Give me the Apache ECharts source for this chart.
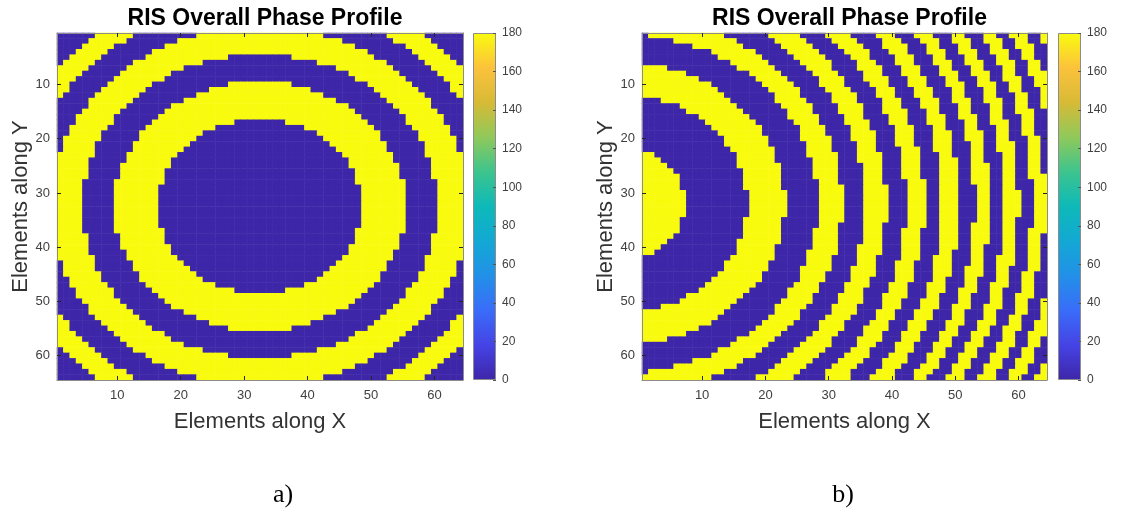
<!DOCTYPE html>
<html><head><meta charset="utf-8">
<script src="https://cdn.jsdelivr.net/npm/echarts@6/dist/echarts.min.js"></script>
<style>html,body{margin:0;padding:0;background:#fff}#c{width:1122px;height:517px}</style>
</head><body><div id="c"></div>
<script>
// ---------------- data ----------------
const titleText = 'RIS Overall Phase Profile';
const xAxisName = 'Elements along X';
const yAxisName = 'Elements along Y';
const captions = ['a)', 'b)'];
const phaseLow = 0, phaseHigh = 180;            // binary phase states (deg)
const axisTickLabels = ['10','20','30','40','50','60'];
const colorbarTicks = [0,20,40,60,80,100,120,140,160,180];

// Each row (Y = 1..64, top to bottom) lists the last column of each run.
// Profile a): runs start with 0° (blue) and alternate 0/180.
const profileA = [
[6,12,22,32,32,32,32,32,32,42,52,58],
[5,11,19,32,32,32,32,32,32,45,53,59],
[4,9,17,32,32,32,32,32,32,47,55,60],
[3,8,15,32,32,32,32,32,32,49,56,61],
[2,7,14,27,32,32,32,32,37,50,57,62],
[1,6,12,23,32,32,32,32,41,52,58,63],
[0,5,11,20,32,32,32,32,44,53,59,64],
[0,4,10,18,32,32,32,32,46,54,60,64],
[0,3,9,17,32,32,32,32,47,55,61,64],
[0,2,8,15,27,32,32,37,49,56,62,64],
[0,2,7,14,24,32,32,40,50,57,62,64],
[0,1,6,13,22,32,32,42,51,58,63,64],
[0,0,5,12,20,32,32,44,52,59,64,64],
[0,0,5,11,18,32,32,46,53,59,64,64],
[0,0,4,10,17,32,32,47,54,60,64,64],
[0,0,3,9,16,32,32,48,55,61,64,64],
[0,0,3,9,15,28,36,49,55,61,64,64],
[0,0,2,8,14,25,39,50,56,62,64,64],
[0,0,2,7,13,23,41,51,57,62,64,64],
[0,0,1,7,13,22,42,51,57,63,64,64],
[0,0,1,6,12,21,43,52,58,63,64,64],
[0,0,1,6,12,20,44,52,58,63,64,64],
[0,0,0,6,11,19,45,53,58,64,64,64],
[0,0,0,5,11,18,46,53,59,64,64,64],
[0,0,0,5,10,18,46,54,59,64,64,64],
[0,0,0,5,10,17,47,54,59,64,64,64],
[0,0,0,5,10,17,47,54,59,64,64,64],
[0,0,0,4,9,17,47,55,60,64,64,64],
[0,0,0,4,9,16,48,55,60,64,64,64],
[0,0,0,4,9,16,48,55,60,64,64,64],
[0,0,0,4,9,16,48,55,60,64,64,64],
[0,0,0,4,9,16,48,55,60,64,64,64],
[0,0,0,4,9,16,48,55,60,64,64,64],
[0,0,0,4,9,16,48,55,60,64,64,64],
[0,0,0,4,9,16,48,55,60,64,64,64],
[0,0,0,4,9,16,48,55,60,64,64,64],
[0,0,0,4,9,17,47,55,60,64,64,64],
[0,0,0,5,10,17,47,54,59,64,64,64],
[0,0,0,5,10,17,47,54,59,64,64,64],
[0,0,0,5,10,18,46,54,59,64,64,64],
[0,0,0,5,11,18,46,53,59,64,64,64],
[0,0,0,6,11,19,45,53,58,64,64,64],
[0,0,1,6,12,20,44,52,58,63,64,64],
[0,0,1,6,12,21,43,52,58,63,64,64],
[0,0,1,7,13,22,42,51,57,63,64,64],
[0,0,2,7,13,23,41,51,57,62,64,64],
[0,0,2,8,14,25,39,50,56,62,64,64],
[0,0,3,9,15,28,36,49,55,61,64,64],
[0,0,3,9,16,32,32,48,55,61,64,64],
[0,0,4,10,17,32,32,47,54,60,64,64],
[0,0,5,11,18,32,32,46,53,59,64,64],
[0,0,5,12,20,32,32,44,52,59,64,64],
[0,1,6,13,22,32,32,42,51,58,63,64],
[0,2,7,14,24,32,32,40,50,57,62,64],
[0,2,8,15,27,32,32,37,49,56,62,64],
[0,3,9,17,32,32,32,32,47,55,61,64],
[0,4,10,18,32,32,32,32,46,54,60,64],
[0,5,11,20,32,32,32,32,44,53,59,64],
[1,6,12,23,32,32,32,32,41,52,58,63],
[2,7,14,27,32,32,32,32,37,50,57,62],
[3,8,15,32,32,32,32,32,32,49,56,61],
[4,9,17,32,32,32,32,32,32,47,55,60],
[5,11,19,32,32,32,32,32,32,45,53,59],
[6,12,22,32,32,32,32,32,32,42,52,58]
];

// Profile b): runs start with 180° (yellow) and alternate 180/0.
const profileB = [
[0,0,0,1,13,20,25,29,33,37,40,43,46,49,51,54,56,58,61,63],
[0,0,0,5,15,21,26,30,34,38,41,44,47,49,52,54,57,59,61,63],
[0,0,0,8,16,22,27,31,35,38,42,45,47,50,52,55,57,59,62,64],
[0,0,0,11,18,23,28,32,36,39,42,45,48,50,53,55,58,60,62,64],
[0,0,0,12,19,24,29,33,36,40,43,46,48,51,53,56,58,60,62,64],
[0,0,0,14,20,25,30,34,37,40,43,46,49,51,54,56,59,61,63,64],
[0,0,4,15,21,26,30,34,38,41,44,47,49,52,54,57,59,61,63,64],
[0,0,7,17,22,27,31,35,38,41,44,47,50,52,55,57,59,61,64,64],
[0,0,9,18,23,28,32,35,39,42,45,48,50,53,55,57,60,62,64,64],
[0,0,11,19,24,28,32,36,39,42,45,48,51,53,56,58,60,62,64,64],
[0,0,12,20,25,29,33,37,40,43,46,49,51,54,56,58,60,63,64,64],
[0,0,13,21,25,30,34,37,40,43,46,49,51,54,56,59,61,63,64,64],
[0,3,14,21,26,30,34,38,41,44,47,49,52,54,57,59,61,63,64,64],
[0,6,15,22,27,31,35,38,41,44,47,50,52,55,57,59,61,63,64,64],
[0,7,16,23,27,31,35,38,42,45,47,50,52,55,57,59,62,64,64,64],
[0,9,17,23,28,32,35,39,42,45,48,50,53,55,57,60,62,64,64,64],
[0,10,18,24,28,32,36,39,42,45,48,51,53,55,58,60,62,64,64,64],
[0,11,19,25,29,33,36,40,43,46,48,51,53,56,58,60,62,64,64,64],
[0,12,19,25,29,33,37,40,43,46,49,51,54,56,58,60,62,64,64,64],
[0,13,20,25,30,33,37,40,43,46,49,51,54,56,58,61,63,64,64,64],
[0,13,20,26,30,34,37,40,43,46,49,52,54,56,59,61,63,64,64,64],
[0,14,21,26,30,34,37,41,44,46,49,52,54,56,59,61,63,64,64,64],
[2,15,21,26,31,34,38,41,44,47,49,52,54,57,59,61,63,64,64,64],
[3,15,21,27,31,34,38,41,44,47,50,52,54,57,59,61,63,64,64,64],
[4,15,22,27,31,35,38,41,44,47,50,52,55,57,59,61,63,64,64,64],
[5,16,22,27,31,35,38,41,44,47,50,52,55,57,59,61,63,64,64,64],
[6,16,22,27,31,35,38,41,44,47,50,52,55,57,59,61,64,64,64,64],
[6,16,22,28,31,35,38,42,45,47,50,52,55,57,59,62,64,64,64,64],
[6,16,22,28,32,35,39,42,45,47,50,53,55,57,59,62,64,64,64,64],
[7,17,23,28,32,35,39,42,45,47,50,53,55,57,60,62,64,64,64,64],
[7,17,23,28,32,35,39,42,45,47,50,53,55,57,60,62,64,64,64,64],
[7,17,23,28,32,35,39,42,45,47,50,53,55,57,60,62,64,64,64,64],
[7,17,23,28,32,35,39,42,45,47,50,53,55,57,60,62,64,64,64,64],
[7,17,23,28,32,35,39,42,45,47,50,53,55,57,60,62,64,64,64,64],
[6,16,22,28,32,35,39,42,45,47,50,53,55,57,59,62,64,64,64,64],
[6,16,22,28,31,35,38,42,45,47,50,52,55,57,59,62,64,64,64,64],
[6,16,22,27,31,35,38,41,44,47,50,52,55,57,59,61,64,64,64,64],
[5,16,22,27,31,35,38,41,44,47,50,52,55,57,59,61,63,64,64,64],
[4,15,22,27,31,35,38,41,44,47,50,52,55,57,59,61,63,64,64,64],
[3,15,21,27,31,34,38,41,44,47,50,52,54,57,59,61,63,64,64,64],
[2,15,21,26,31,34,38,41,44,47,49,52,54,57,59,61,63,64,64,64],
[0,14,21,26,30,34,37,41,44,46,49,52,54,56,59,61,63,64,64,64],
[0,13,20,26,30,34,37,40,43,46,49,52,54,56,59,61,63,64,64,64],
[0,13,20,25,30,33,37,40,43,46,49,51,54,56,58,61,63,64,64,64],
[0,12,19,25,29,33,37,40,43,46,49,51,54,56,58,60,62,64,64,64],
[0,11,19,25,29,33,36,40,43,46,48,51,53,56,58,60,62,64,64,64],
[0,10,18,24,28,32,36,39,42,45,48,51,53,55,58,60,62,64,64,64],
[0,9,17,23,28,32,35,39,42,45,48,50,53,55,57,60,62,64,64,64],
[0,7,16,23,27,31,35,38,42,45,47,50,52,55,57,59,62,64,64,64],
[0,6,15,22,27,31,35,38,41,44,47,50,52,55,57,59,61,63,64,64],
[0,3,14,21,26,30,34,38,41,44,47,49,52,54,57,59,61,63,64,64],
[0,0,13,21,25,30,34,37,40,43,46,49,51,54,56,59,61,63,64,64],
[0,0,12,20,25,29,33,37,40,43,46,49,51,54,56,58,60,63,64,64],
[0,0,11,19,24,28,32,36,39,42,45,48,51,53,56,58,60,62,64,64],
[0,0,9,18,23,28,32,35,39,42,45,48,50,53,55,57,60,62,64,64],
[0,0,7,17,22,27,31,35,38,41,44,47,50,52,55,57,59,61,64,64],
[0,0,4,15,21,26,30,34,38,41,44,47,49,52,54,57,59,61,63,64],
[0,0,0,14,20,25,30,34,37,40,43,46,49,51,54,56,59,61,63,64],
[0,0,0,12,19,24,29,33,36,40,43,46,48,51,53,56,58,60,62,64],
[0,0,0,11,18,23,28,32,36,39,42,45,48,50,53,55,58,60,62,64],
[0,0,0,8,16,22,27,31,35,38,42,45,47,50,52,55,57,59,62,64],
[0,0,0,5,15,21,26,30,34,38,41,44,47,49,52,54,57,59,61,63],
[0,0,0,1,13,20,25,29,33,37,40,43,46,49,51,54,56,58,61,63],
[0,0,0,0,11,18,24,29,33,36,40,43,45,48,51,53,56,58,60,62]
];

// ---------------- helpers ----------------
const N = profileA.length;
const cats = Array.from({length: N}, (_, i) => String(i + 1));
function expand(rows, first, other) {
  const out = [];
  rows.forEach((edges, y) => {
    let prev = 0;
    const put = (to, v) => { for (let x = prev; x < to; x++) out.push([x, y, v]); prev = Math.max(prev, to); };
    edges.forEach((e, k) => put(e, k % 2 === 0 ? first : other));
    put(N, edges.length % 2 === 0 ? first : other);
  });
  return out;
}
const dataA = expand(profileA, phaseLow, phaseHigh);
const dataB = expand(profileB, phaseHigh, phaseLow);

const parula = ['#3E26A8','#4543E5','#3A6CF9','#2290E8','#13A8D4','#0DB9B8','#3DC48E','#90C95A','#D7BA36','#FCC23C','#F9FB0E'];
const FONT = 'Liberation Sans, Arial, sans-serif';
const showTick = (i, v) => axisTickLabels.includes(v);

const panels = [
  {left: 57, width: 406, cbLeft: 473, data: dataA, caption: captions[0], capX: 278},
  {left: 642, width: 405, cbLeft: 1058, data: dataB, caption: captions[1], capX: 838}
];
const TOP = 33, H = 347;

const grid = [], xAxis = [], yAxis = [], series = [], visualMap = [], title = [];
panels.forEach((p, k) => {
  const g = grid.length;
  grid.push({left: p.left, top: TOP, width: p.width, height: H, containLabel: false});
  grid.push({left: p.cbLeft, top: TOP, width: 23, height: H, containLabel: false});
  const lineStyle = {color: '#8c8c8c', width: 1};
  const tick = {show: true, inside: true, length: 4, interval: showTick, alignWithLabel: true, lineStyle: {color: '#262626', width: 1}};
  const xi = xAxis.length, yi = yAxis.length;
  xAxis.push({type: 'category', gridIndex: g, data: cats, position: 'bottom', z: 10,
    axisLine: {show: true, lineStyle}, axisTick: tick,
    axisLabel: {interval: showTick, color: '#404040', fontSize: 13, fontFamily: FONT, margin: 9},
    name: xAxisName, nameLocation: 'middle', nameGap: 31,
    nameTextStyle: {fontSize: 22, color: '#333', fontFamily: FONT}, splitLine: {show: false}});
  xAxis.push({type: 'category', gridIndex: g, data: cats, position: 'top', z: 10,
    axisLine: {show: true, lineStyle}, axisTick: tick, axisLabel: {show: false}, splitLine: {show: false}});
  yAxis.push({type: 'category', gridIndex: g, data: cats, inverse: true, position: 'left', z: 10,
    axisLine: {show: true, lineStyle}, axisTick: tick,
    axisLabel: {interval: showTick, color: '#404040', fontSize: 13, fontFamily: FONT, margin: 7},
    name: yAxisName, nameLocation: 'middle', nameGap: 24, nameRotate: 90,
    nameTextStyle: {fontSize: 22, color: '#333', fontFamily: FONT}, splitLine: {show: false}});
  yAxis.push({type: 'category', gridIndex: g, data: cats, inverse: true, position: 'right', z: 10,
    axisLine: {show: true, lineStyle}, axisTick: tick, axisLabel: {show: false}, splitLine: {show: false}});
  // colorbar axes
  xAxis.push({type: 'category', gridIndex: g + 1, data: ['cb'], show: false});
  yAxis.push({type: 'value', gridIndex: g + 1, min: colorbarTicks[0], max: colorbarTicks[colorbarTicks.length - 1],
    interval: 20, position: 'right', z: 10,
    axisLine: {show: false}, axisTick: {show: true, inside: true, length: 3, lineStyle: {color: '#555'}},
    axisLabel: {color: '#404040', fontSize: 12, fontFamily: FONT, margin: 6}, splitLine: {show: false}});

  const si = series.length;
  series.push({type: 'heatmap', xAxisIndex: xi, yAxisIndex: yi, data: p.data, progressive: 0,
    emphasis: {disabled: true}, silent: true});
  visualMap.push({type: 'continuous', show: false, seriesIndex: si, min: phaseLow, max: phaseHigh,
    dimension: 2, inRange: {color: parula}});
  series.push({type: 'bar', xAxisIndex: xi + 2, yAxisIndex: yi + 2, data: [phaseHigh], barWidth: '100%', silent: true,
    itemStyle: {borderColor: '#8c8c8c', borderWidth: 1,
      color: new echarts.graphic.LinearGradient(0, 1, 0, 0, parula.map((c, i) => ({offset: i / (parula.length - 1), color: c})))}});

  title.push({text: titleText, left: p.left + p.width / 2, top: 2, textAlign: 'center',
    textStyle: {fontSize: 23, fontWeight: 'bold', color: '#000', fontFamily: FONT}});
  title.push({text: p.caption, left: p.capX, top: 477, textAlign: 'center',
    textStyle: {fontSize: 26, fontWeight: 'normal', color: '#000', fontFamily: 'Liberation Serif, Times New Roman, serif'}});
});

const chart = echarts.init(document.getElementById('c'), null, {renderer: 'canvas'});
chart.setOption({animation: false, backgroundColor: '#fff', title, grid, xAxis, yAxis, visualMap, series});
</script></body></html>
